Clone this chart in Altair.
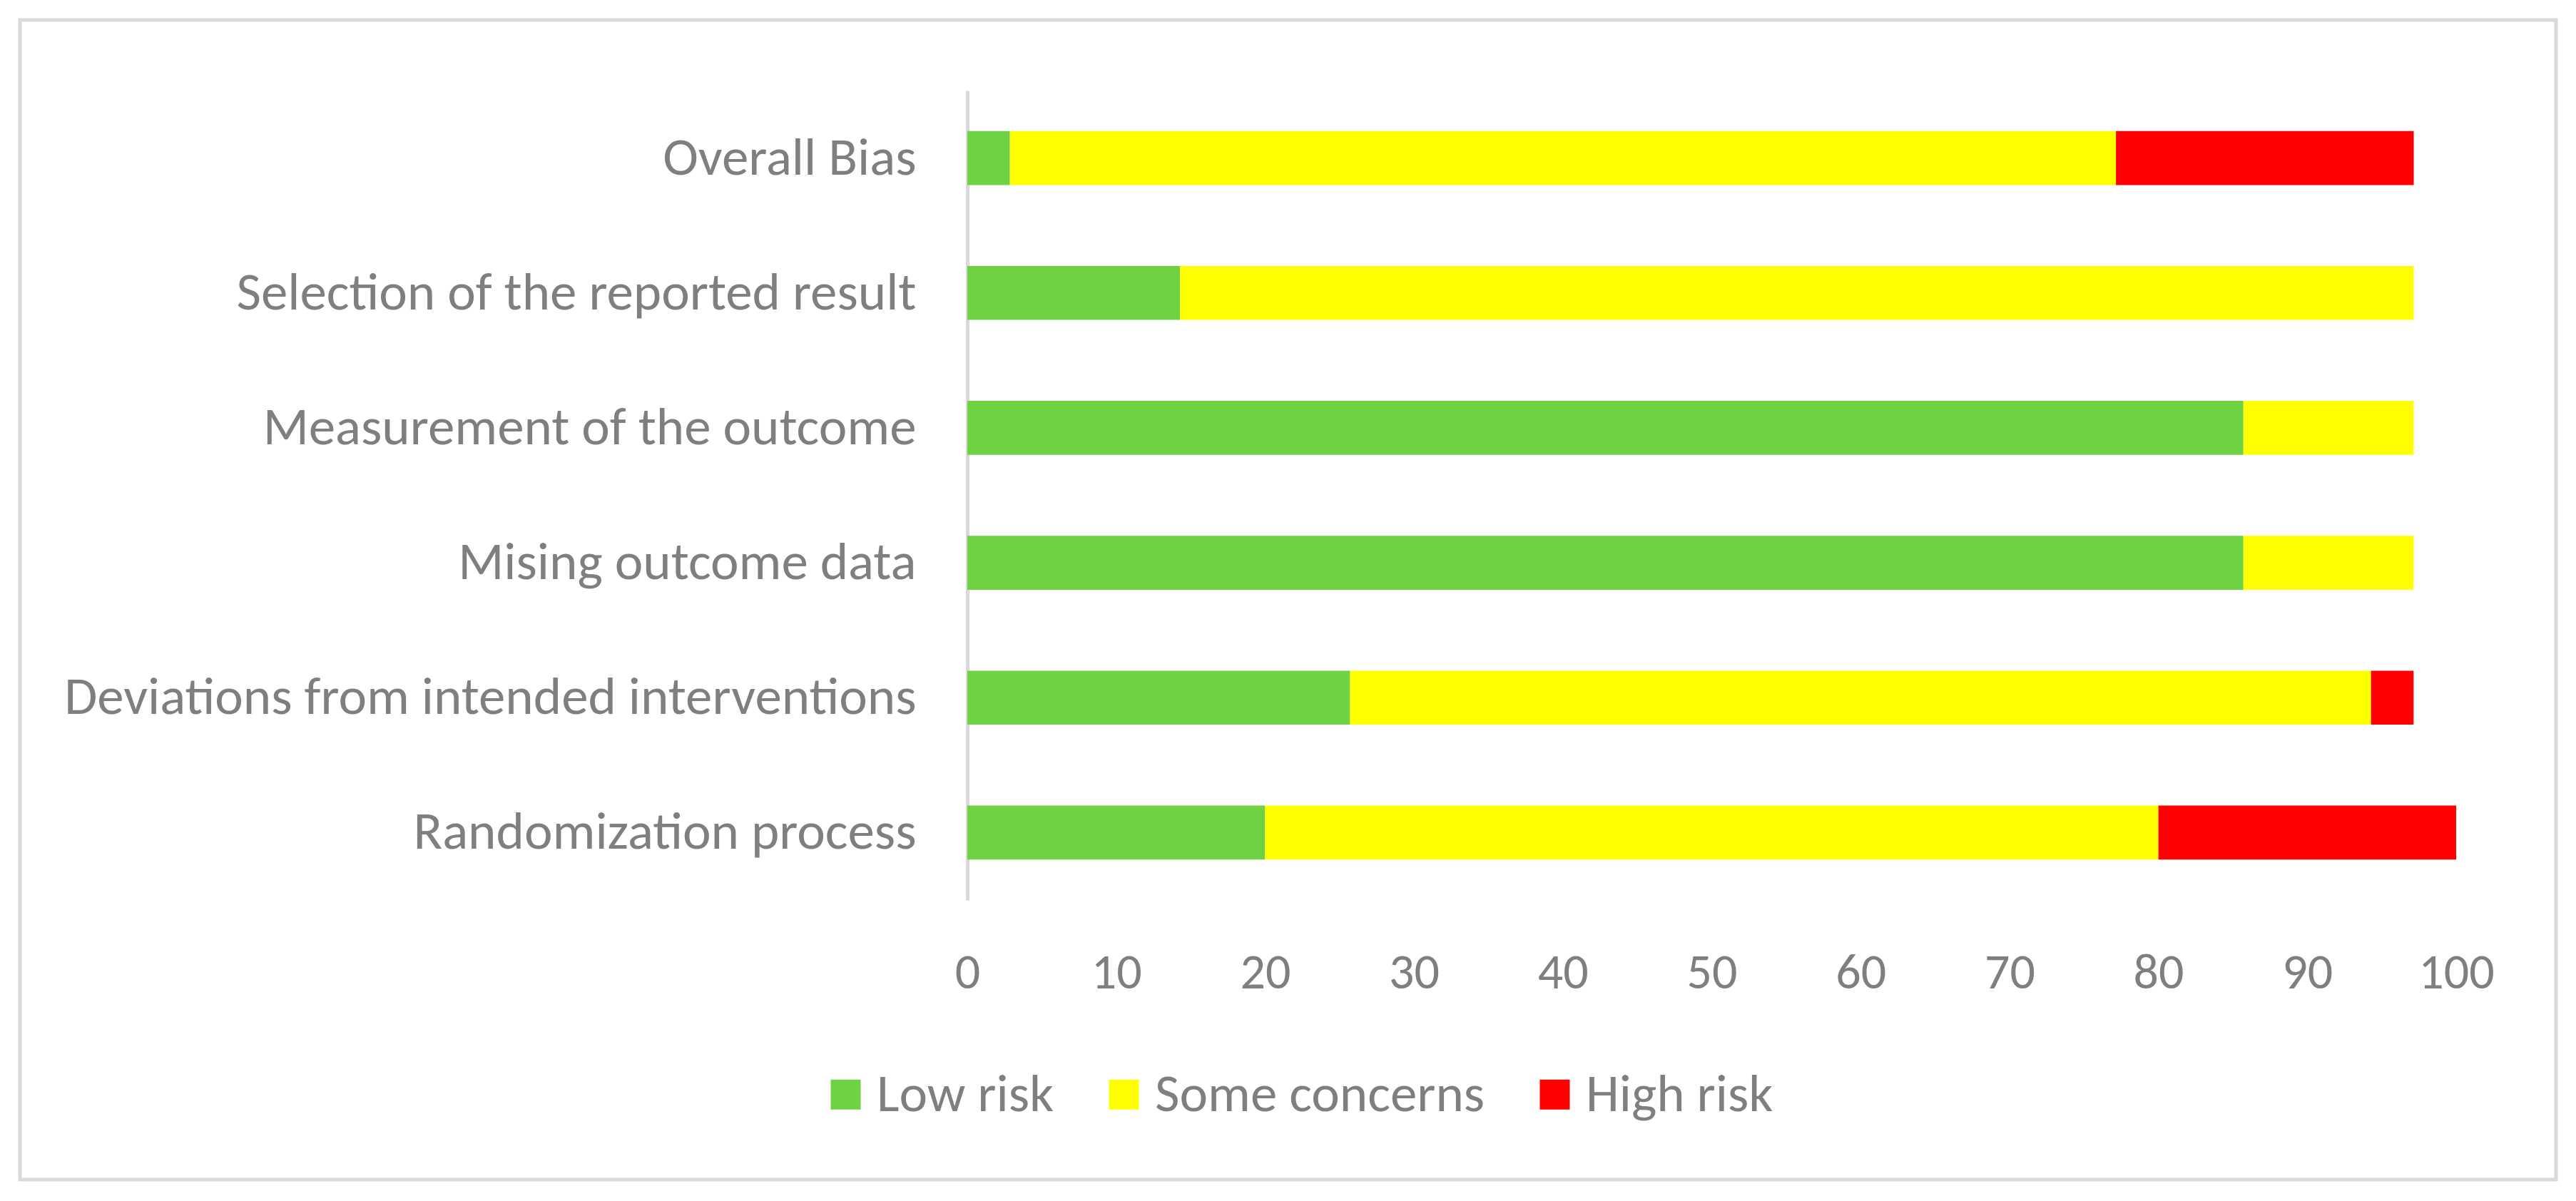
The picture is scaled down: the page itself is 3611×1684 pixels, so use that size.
import altair as alt
import pandas as pd

domains = [
    "Overall Bias",
    "Selection of the reported result",
    "Measurement of the outcome",
    "Mising outcome data",
    "Deviations from intended interventions",
    "Randomization process",
]
low_risk = [2.86, 14.29, 85.71, 85.71, 25.71, 20.0]
some_concerns = [74.29, 82.86, 11.43, 11.43, 68.57, 60.0]
high_risk = [20.0, 0.0, 0.0, 0.0, 2.86, 20.0]
categories = ["Low risk", "Some concerns", "High risk"]
colors = ["#6fd243", "#ffff00", "#ff0000"]
x_ticks = [0, 10, 20, 30, 40, 50, 60, 70, 80, 90, 100]

rows = []
for i, d in enumerate(domains):
    for k, (cat, vals) in enumerate(zip(categories, [low_risk, some_concerns, high_risk])):
        rows.append({"domain": d, "category": cat, "value": vals[i], "order": k})
df = pd.DataFrame(rows)

FONT = "Carlito, Lato"
GRAY = "#7f7f7f"
LINE = "#d9d9d9"
FS = 75

bars = alt.Chart(df).mark_bar().encode(
    y=alt.Y("domain:N", sort=domains, title=None,
            scale=alt.Scale(paddingInner=0.6, paddingOuter=0.3),
            axis=alt.Axis(labelFont=FONT, labelFontSize=FS, labelColor=GRAY,
                          labelPadding=72, ticks=False, domainColor=LINE,
                          domainWidth=5, labelLimit=3000, grid=False)),
    x=alt.X("value:Q", stack="zero", title=None,
            scale=alt.Scale(domain=[0, 100], nice=False),
            axis=alt.Axis(values=x_ticks, labelFont=FONT, labelFontSize=70,
                          labelColor=GRAY, labelPadding=68, ticks=False,
                          labelFlush=False, domain=False, grid=False)),
    color=alt.Color("category:N", sort=categories,
                    scale=alt.Scale(domain=categories, range=colors),
                    legend=alt.Legend(title=None, orient="none", direction="horizontal",
                                      legendX=-208, legendY=1370,
                                      symbolType="square", symbolSize=1764,
                                      symbolStrokeWidth=0,
                                      labelFont=FONT, labelFontSize=FS, labelColor=GRAY,
                                      labelOffset=6, columnPadding=60,
                                      labelLimit=2000)),
    order=alt.Order("order:Q"),
)

frame = alt.Chart(pd.DataFrame({"a": [0]})).mark_rect(
    filled=False, stroke=LINE, strokeWidth=5
).encode(
    x=alt.value(-1328), x2=alt.value(2227), y=alt.value(-99), y2=alt.value(1527)
)

chart = alt.layer(frame, bars).properties(
    width=2087, height=1135,
    autosize=alt.AutoSizeParams(type="none"),
    padding={"left": 1348, "top": 119, "right": 152, "bottom": 414},
    view=alt.ViewBackground(strokeWidth=0, stroke="transparent"),
).configure_view(strokeWidth=0, stroke="transparent").configure(background="white")

chart.save("out.html", embed_options={"renderer": "svg", "actions": False})
